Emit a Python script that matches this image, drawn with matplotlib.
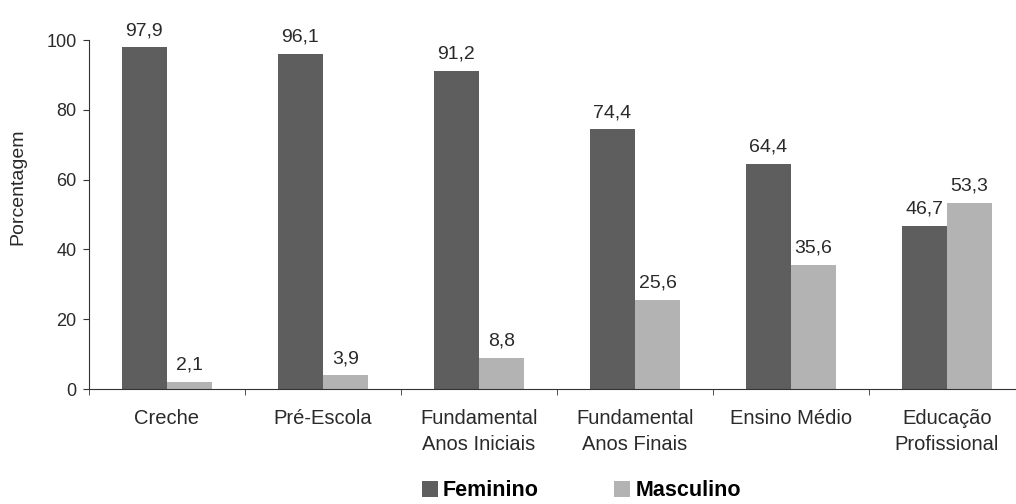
import numpy as np
import matplotlib.pyplot as plt

plt.rcParams['font.family'] = ['Liberation Sans', 'DejaVu Sans']

# Dados
categorias = ['Creche', 'Pré-Escola', 'Fundamental\nAnos Iniciais',
              'Fundamental\nAnos Finais', 'Ensino Médio', 'Educação\nProfissional']
feminino = [97.9, 96.1, 91.2, 74.4, 64.4, 46.7]
masculino = [2.1, 3.9, 8.8, 25.6, 35.6, 53.3]

cor_fem = '#5e5e5e'
cor_masc = '#b3b3b3'
cor_txt = '#2a2a2a'

fig = plt.figure(figsize=(10.16, 5.04), dpi=100)
ax = fig.add_axes([0.0876, 0.228, 0.921, 0.6925])

x = np.arange(len(categorias))
w = 0.29
b1 = ax.bar(x - w/2, feminino, w, color=cor_fem, label='Feminino')
b2 = ax.bar(x + w/2, masculino, w, color=cor_masc, label='Masculino')

def fmt(v):
    return ('%.1f' % v).replace('.', ',')

# rótulos de valor
for xi, v in zip(x - w/2, feminino):
    ax.text(xi, v + 2.4, fmt(v), ha='center', va='bottom', fontsize=14, color=cor_txt)
for xi, v in zip(x + w/2, masculino):
    ax.text(xi, v + 2.4, fmt(v), ha='center', va='bottom', fontsize=14, color=cor_txt)

ax.set_xlim(-0.5, len(categorias) - 0.5)
ax.set_ylim(0, 100)
ax.set_yticks([0, 20, 40, 60, 80, 100])
ax.set_xticks(x)
ax.set_xticklabels(categorias, fontsize=14.5, color=cor_txt, linespacing=1.48)
ax.set_xticks(np.arange(-0.5, len(categorias)), minor=True)
ax.tick_params(axis='x', which='major', length=0, pad=14)
ax.tick_params(axis='x', which='minor', length=4, direction='out', color='#333333')
ax.tick_params(axis='y', length=4, direction='out', pad=5, labelsize=13, color='#333333', labelcolor=cor_txt)
ax.spines['top'].set_visible(False)
ax.spines['right'].set_visible(False)
ax.spines['left'].set_color('#333333')
ax.spines['bottom'].set_color('#333333')
ax.set_ylabel('Porcentagem', fontsize=14, color=cor_txt)
ax.yaxis.set_label_coords(-0.067, 0.579)

fig.legend(handles=[b1, b2], loc='center left', bbox_to_anchor=(422/1016, 13/504), ncol=2,
           frameon=False, prop={'weight': 'bold', 'size': 15.5}, handlelength=0.75,
           handleheight=0.7, handletextpad=0.23, columnspacing=3.5,
           borderpad=0, borderaxespad=0)

plt.savefig('out.png', dpi=100)
